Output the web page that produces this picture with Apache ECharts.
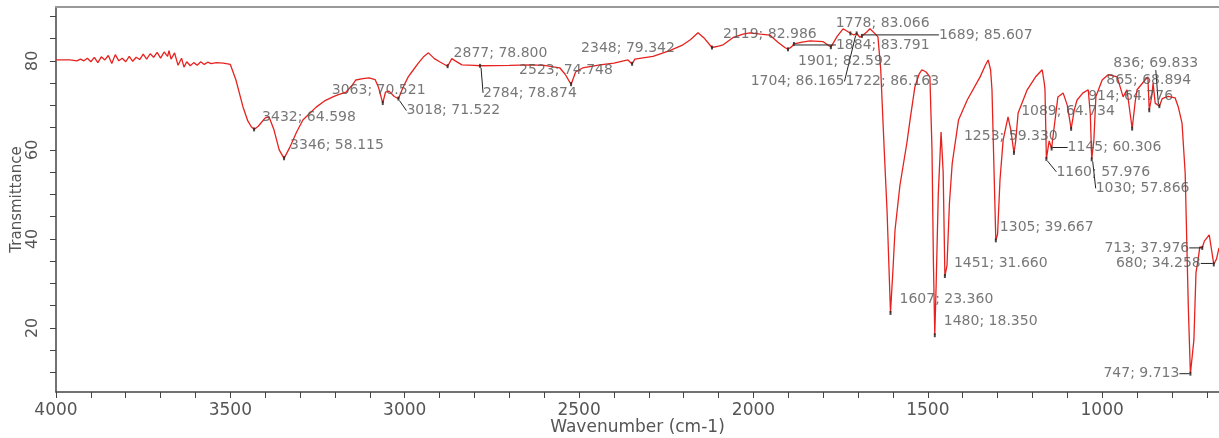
<!DOCTYPE html>
<html>
<head>
<meta charset="utf-8">
<script src="https://cdn.jsdelivr.net/npm/echarts@6/dist/echarts.min.js"></script>
<style>html,body{margin:0;padding:0;background:#fff}#c{width:1219px;height:438px}</style>
</head>
<body>
<div id="c"></div>
<script>
// ---- data ----
const wavenumber = [4000,3960,3940,3930,3920,3910,3900,3890,3880,3870,3860,3850,3840,3830,3820,3810,3800,3790,3780,3770,3760,3750,3740,3730,3720,3710,3700,3690,3680,3676,3670,3660,3650,3640,3633,3625,3615,3605,3595,3585,3575,3565,3555,3540,3520,3500,3484,3470,3464,3450,3440,3432,3420,3400,3389,3375,3360,3346,3330,3310,3292,3270,3254,3230,3206,3190,3168,3150,3140,3120,3102,3085,3075,3063,3055,3045,3030,3018,3005,2990,2975,2961,2945,2932,2915,2900,2877,2865,2855,2836,2800,2784,2700,2640,2600,2570,2555,2540,2523,2510,2490,2440,2400,2360,2348,2340,2288,2240,2202,2180,2159,2140,2119,2100,2087,2059,2030,2010,1980,1953,1930,1910,1901,1890,1884,1860,1838,1800,1778,1760,1743,1730,1722,1712,1704,1695,1689,1675,1666,1650,1643,1635,1625,1617,1607,1600,1594,1580,1560,1551,1537,1525,1517,1505,1494,1488,1484,1480,1476,1470,1462,1456,1451,1445,1438,1430,1412,1387,1350,1335,1327,1320,1316,1310,1305,1300,1293,1284,1270,1262,1253,1248,1241,1215,1190,1172,1166,1164,1160,1152,1145,1141,1127,1112,1100,1089,1080,1072,1055,1040,1034,1030,1024,1018,1000,983,957,940,929,914,905,900,877,869,865,858,854,848,836,828,811,791,782,771,762,753,747,737,731,725,720,713,707,693,680,672,665];
const transmittance = [80.2,80.2,80.0,80.4,80.0,80.6,79.8,80.8,79.6,80.9,80.2,81.2,79.4,81.4,80.0,80.6,79.8,81.0,79.9,80.8,80.3,81.5,80.4,81.6,80.8,81.9,80.6,82.0,81.0,82.3,80.4,81.8,79.0,80.6,78.6,79.8,78.9,79.6,79.0,79.8,79.2,79.7,79.4,79.6,79.5,79.2,75.7,71.5,69.7,66.5,65.2,64.6,65.3,67.2,67.4,64.5,60.0,58.1,60.5,64.0,66.7,68.4,69.6,71.0,71.9,72.4,73.0,74.6,75.7,76.0,76.2,75.8,74.0,70.5,73.0,73.2,72.0,71.5,74.0,76.4,78.0,79.5,81.0,81.8,80.5,79.8,78.8,80.5,80.0,79.1,79.0,78.9,79.0,79.1,79.0,78.6,78.4,77.0,74.7,77.5,78.4,79.1,79.5,80.2,79.3,80.4,81.0,82.3,83.6,84.8,86.3,85.0,83.0,83.3,83.6,85.2,86.0,86.3,86.0,85.8,84.2,83.0,82.6,83.2,83.8,84.2,84.5,84.3,83.1,85.5,87.2,86.6,86.2,85.8,86.2,85.3,85.6,86.5,87.2,86.0,85.4,78.0,60.0,46.5,23.4,33.0,42.0,52.0,61.6,66.7,74.2,77.0,78.0,77.5,76.4,60.0,35.0,18.4,30.0,50.0,64.0,55.0,31.7,34.0,48.0,57.0,66.7,71.2,76.4,79.0,80.2,78.0,73.5,55.0,39.7,41.0,53.3,62.2,67.4,64.5,59.3,62.0,68.3,73.5,76.5,78.0,75.0,73.5,58.0,62.0,60.3,63.0,71.9,72.8,70.0,64.7,69.0,71.2,72.8,73.5,68.0,57.9,62.0,72.0,75.7,76.9,76.4,71.9,73.5,64.8,71.0,73.5,75.7,76.4,68.9,72.0,75.0,70.5,69.8,71.5,72.0,71.7,69.7,66.0,54.8,24.7,9.7,17.3,32.4,35.3,38.2,38.0,39.5,40.9,34.3,35.5,38.0];

const peakWn = [3432,3346,3063,3018,2877,2784,2523,2348,2119,1901,1884,1778,1704,1722,1689,1253,1089,1145,1160,1030,836,865,914,1305,1451,1607,1480,713,680,747];
const peakT = [64.598,58.115,70.521,71.522,78.800,78.874,74.748,79.342,82.986,82.592,83.791,83.066,86.165,86.163,85.607,59.330,64.734,60.306,57.976,57.866,69.833,68.894,64.776,39.667,31.660,23.360,18.350,37.976,34.258,9.713];
const peakLabels = ['3432; 64.598','3346; 58.115','3063; 70.521','3018; 71.522','2877; 78.800','2784; 78.874','2523; 74.748','2348; 79.342','2119; 82.986','1901; 82.592','1884; 83.791','1778; 83.066','1704; 86.165','1722; 86.163','1689; 85.607','1253; 59.330','1089; 64.734','1145; 60.306','1160; 57.976','1030; 57.866','836; 69.833','865; 68.894','914; 64.776','1305; 39.667','1451; 31.660','1607; 23.360','1480; 18.350','713; 37.976','680; 34.258','747; 9.713'];

const xTicks = [4000,3900,3800,3700,3600,3500,3400,3300,3200,3100,3000,2900,2800,2700,2600,2500,2400,2300,2200,2100,2000,1900,1800,1700,1600,1500,1400,1300,1200,1100,1000,900,800,700];
const xLabels = [4000,3500,3000,2500,2000,1500,1000];
const yTicks = [10,15,20,25,30,35,40,45,50,55,60,65,70,75,80,85,90];
const yLabels = [20,40,60,80];

// ---- label placement (pixel offsets from peak, style only) ----
// [dx, dy, side, leader]
const labelPlace = [
  [7,-12,'right',0],[5,-13,'right',0],[-52,-13,'right',0],[7,12,'right',1],[5,-13,'right',0],
  [2,27,'right',1],[-53,-14,'right',0],[-52,-15,'right',0],[10,-13,'right',0],[9,12,'right',0],
  [41,1,'right',1],[4,-24,'right',0],[-107,48,'right',1],[-6,48,'right',0],[76,-1,'right',1],
  [-51,-16,'right',0],[-51,-17,'right',0],[15,-1,'right',1],[9,13,'right',1],[3,29,'right',1],
  [-47,-43,'right',1],[-44,-30,'right',0],[-45,-32,'right',0],[3,-13,'right',0],[8,-13,'right',0],
  [8,-14,'right',0],[8,-14,'right',0],[-12,0,'left',1],[-12,-1,'left',1],[-10,0,'left',1]
];

const lineData = wavenumber.map((w,i)=>[w,transmittance[i]]);
const peakData = peakWn.map((w,i)=>({
  value:[w,peakT[i]],
  label:{position:labelPlace[i][2], formatter:peakLabels[i]},
  labelLine:{show:!!labelPlace[i][3]}
}));

const chart = echarts.init(document.getElementById('c'), null, {renderer:'canvas'});
const font = 'DejaVu Sans';
chart.setOption({
  animation:false,
  backgroundColor:'#fff',
  grid:{left:56, right:0, top:7, bottom:46, containLabel:false, outerBoundsMode:'none'},
  xAxis:[{
    type:'value', inverse:true, min:665, max:4000,
    name:'Wavenumber (cm-1)', nameLocation:'middle', nameGap:27, nameMoveOverlap:false,
    nameTextStyle:{fontFamily:font, fontSize:17, color:'#555'},
    axisLine:{show:true, lineStyle:{color:'#444', width:1.5}},
    axisTick:{show:true, length:6, inside:false, customValues:xTicks, lineStyle:{color:'#444'}},
    axisLabel:{customValues:xLabels, margin:10, fontFamily:font, fontSize:17, color:'#555',
      formatter:function(v){ return String(v); }},
    splitLine:{show:false}
  },{
    type:'value', position:'top', inverse:true, min:665, max:4000,
    axisLine:{show:true, onZero:false, lineStyle:{color:'#999', width:2}},
    axisTick:{show:false}, axisLabel:{show:false}, splitLine:{show:false}
  }],
  yAxis:{
    type:'value', min:5.6, max:92.1,
    name:'Transmittance', nameLocation:'middle', nameGap:31, nameRotate:90, nameMoveOverlap:false,
    nameTextStyle:{fontFamily:font, fontSize:15, color:'#555'},
    axisLine:{show:true, lineStyle:{color:'#444', width:1.5}},
    axisTick:{show:true, length:6, customValues:yTicks, lineStyle:{color:'#444'}},
    axisLabel:{customValues:yLabels, rotate:90, margin:15, fontFamily:font, fontSize:16, color:'#555',
      formatter:function(v){ return String(v); }},
    splitLine:{show:false}
  },
  series:[{
    type:'line', data:lineData, showSymbol:false, symbol:'none',
    lineStyle:{color:'#e6221e', width:1.3}, z:2
  },{
    type:'scatter', data:peakData, symbol:'rect', symbolSize:[2,4],
    itemStyle:{color:'#222'}, z:3,
    label:{show:true, distance:0, fontFamily:font, fontSize:14, color:'#555'},
    labelLine:{lineStyle:{color:'#222', width:1}},
    labelLayout:function(p){ const s=labelPlace[p.dataIndex]; return {dx:s[0], dy:s[1]}; }
  }]
});
</script>
</body>
</html>
